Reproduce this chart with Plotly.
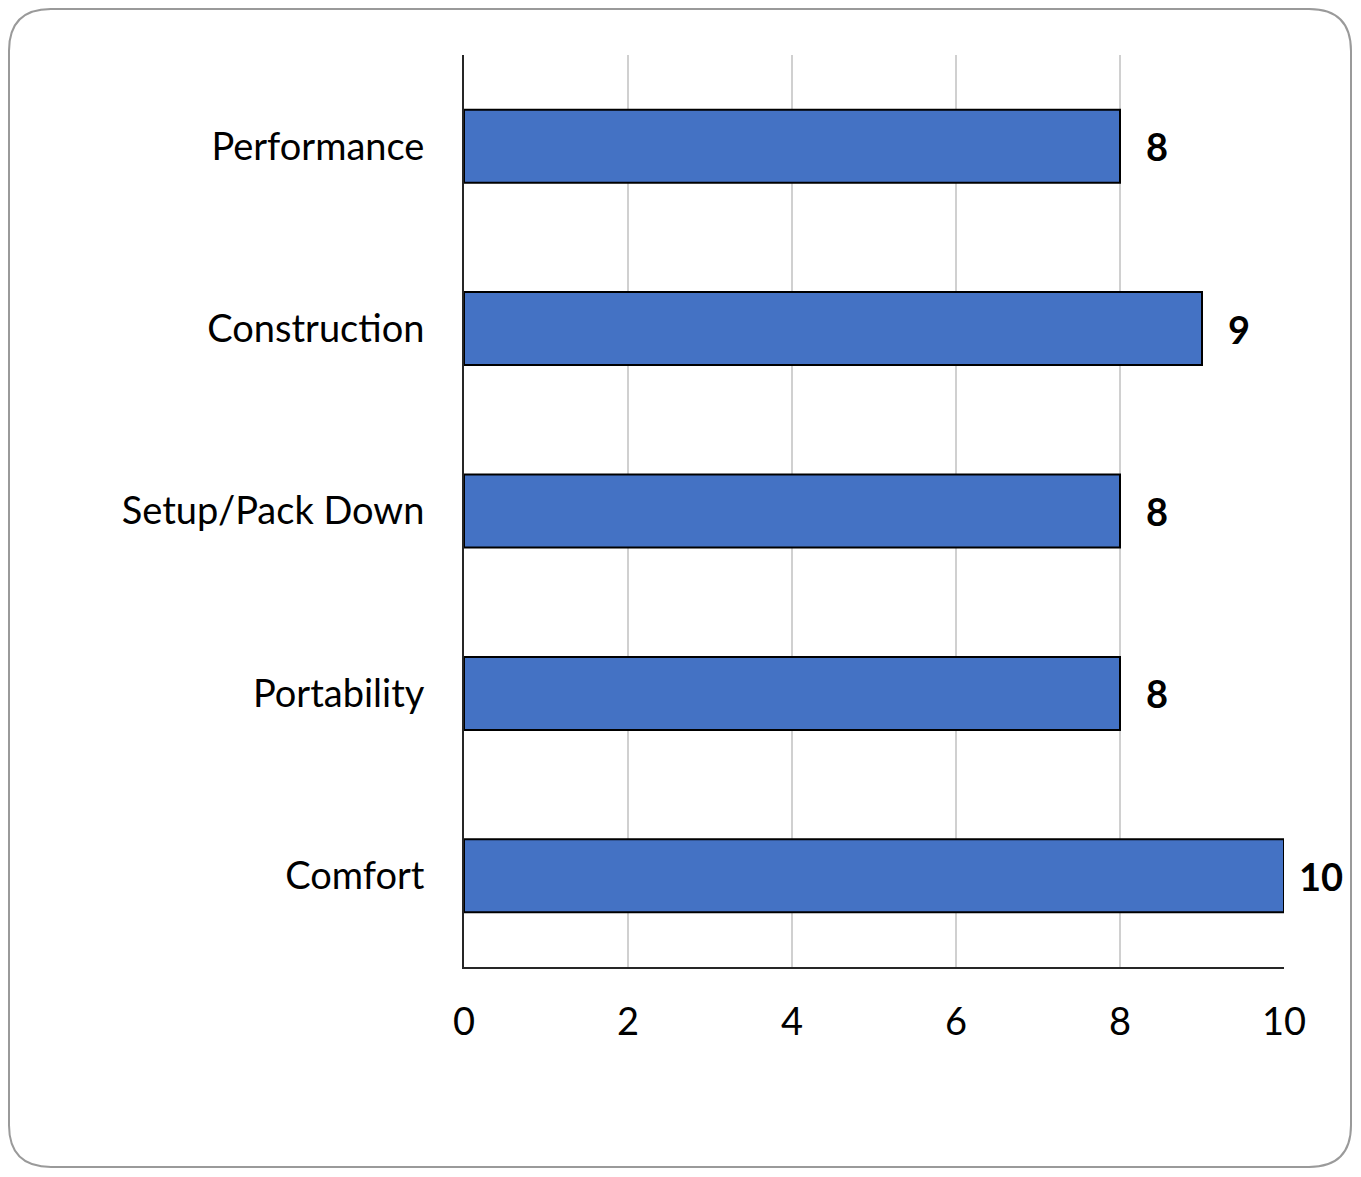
import plotly.graph_objects as go

categories = ["Performance", "Construction", "Setup/Pack Down", "Portability", "Comfort"]
scores = [8, 9, 8, 8, 10]
x_ticks = [0, 2, 4, 6, 8, 10]

OFF = 8  # page body margin compensation
W, H = 1361 - 2 * OFF, 1177 - 2 * OFF
L, R, T, B = 464 - OFF, 1284 - OFF, 55 - OFF, 967 - OFF  # plot area in figure pixels
FONT = "Lato"
FS = 38

fig = go.Figure()
fig.add_trace(go.Bar(
    y=categories, x=scores, orientation="h",
    marker=dict(color="#4472C4", line=dict(color="#000000", width=2)),
    width=0.4, hoverinfo="skip",
))

for c, v in zip(categories, scores):
    fig.add_annotation(x=v, y=c, text=f"<b>{v}</b>", showarrow=False,
                       xanchor="center", xshift=37, yshift=0,
                       font=dict(family=FONT, size=FS, color="#000000"))

def px(x):
    return (x - L) / (R - L)

def py(y):
    return (B - y) / (B - T)

# rounded border (figure pixel coords)
x0, x1, y0, y1, r = 1, W - 2, 1, 1159, 42
pts = [
    ("M", [(x0 + r, y0)]),
    ("L", [(x1 - r, y0)]),
    ("Q", [(x1, y0), (x1, y0 + r)]),
    ("L", [(x1, y1 - r)]),
    ("Q", [(x1, y1), (x1 - r, y1)]),
    ("L", [(x0 + r, y1)]),
    ("Q", [(x0, y1), (x0, y1 - r)]),
    ("L", [(x0, y0 + r)]),
    ("Q", [(x0, y0), (x0 + r, y0)]),
]
path = ""
for cmd, ps in pts:
    path += cmd + " " + " ".join(f"{px(a):.5f},{py(b):.5f}" for a, b in ps) + " "
path += "Z"
fig.add_shape(type="path", path=path, xref="paper", yref="paper",
              line=dict(color="#9a9a9a", width=2), layer="below")

fig.update_layout(
    width=W, height=H,
    margin=dict(l=L, r=W - R, t=T, b=H - B),
    paper_bgcolor="white", plot_bgcolor="white",
    showlegend=False,
    font=dict(family=FONT, size=FS, color="#000000"),
)
fig.update_xaxes(
    range=[0, 10], tickvals=x_ticks, ticktext=[str(t) for t in x_ticks],
    showgrid=True, gridcolor="#d0d0d0", gridwidth=2,
    showline=True, linecolor="#262626", linewidth=2, mirror=False,
    zeroline=False, ticks="", ticklabelstandoff=20,
    tickfont=dict(family=FONT, size=FS, color="#000000"),
)
fig.update_yaxes(
    autorange="reversed", showgrid=False,
    showline=True, linecolor="#262626", linewidth=2,
    ticks="", ticklabelstandoff=30,
    tickfont=dict(family=FONT, size=FS, color="#000000"),
)

fig.write_html("out.html")
